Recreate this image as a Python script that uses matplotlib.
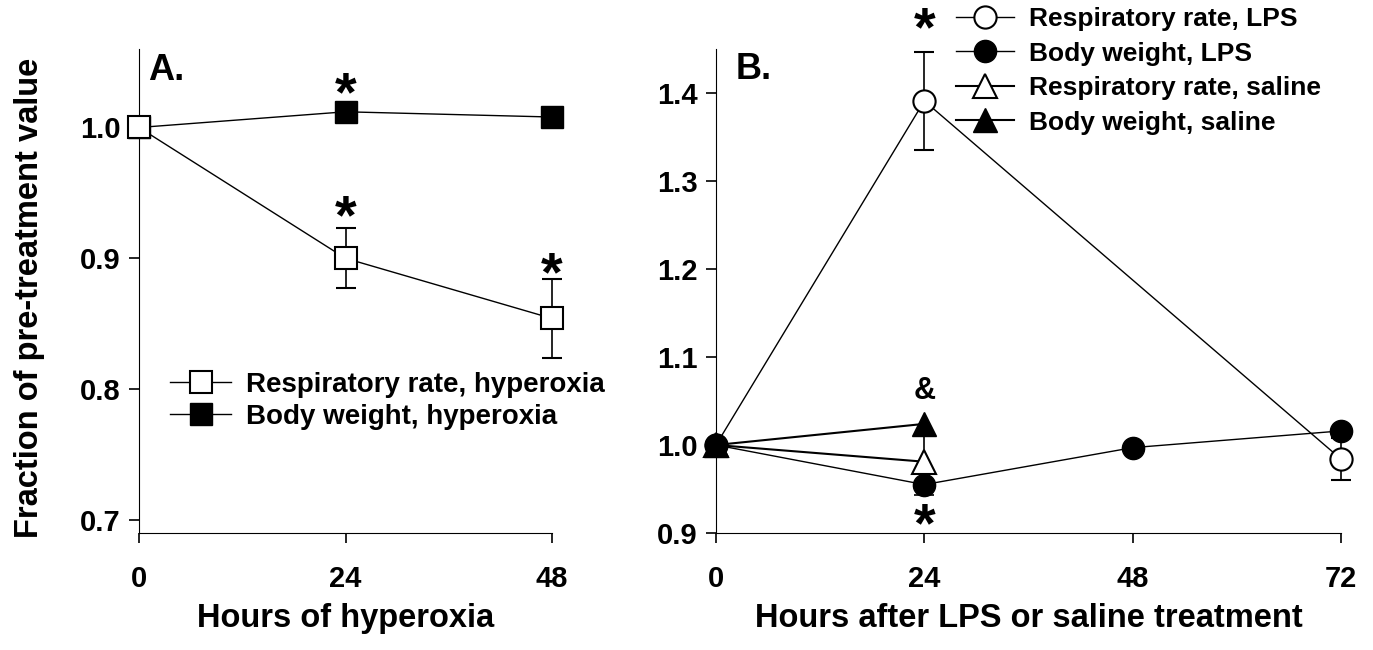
import numpy as np
import matplotlib
matplotlib.use("Agg")
import matplotlib.pyplot as plt

plt.rcParams['font.family'] = ['Liberation Sans', 'DejaVu Sans']
plt.rcParams['font.weight'] = 'bold'

# Panel A: hyperoxia
hrs_a = [0, 24, 48]
rr_hyp = [1.0, 0.900, 0.854]
rr_hyp_err = [0.0, 0.023, 0.030]
bw_hyp = [1.0, 1.012, 1.008]

# Panel B: LPS / saline
rr_lps_x = [0, 24, 72]
rr_lps = [1.0, 1.391, 0.984]
rr_lps_err = [0.0, 0.056, 0.024]
bw_lps_x = [0, 24, 48, 72]
bw_lps = [1.0, 0.955, 0.997, 1.016]
bw_lps_err = [0.0, 0.012, 0.0, 0.0]
sal_x = [0, 24]
rr_sal = [1.0, 0.981]
rr_sal_up = [0.0, 0.040]
bw_sal = [1.0, 1.024]

W, H = 1373, 650
fig = plt.figure(figsize=(W / 100, H / 100), dpi=100)

def px_axes(x0, x1, ytop, ybot):
    return fig.add_axes([x0 / W, 1 - ybot / H, (x1 - x0) / W, (ybot - ytop) / H])

axA = px_axes(139, 552, 49, 533)
axB = px_axes(716, 1341, 49, 533)

for ax in (axA, axB):
    ax.spines['top'].set_visible(False)
    ax.spines['right'].set_visible(False)
    ax.tick_params(direction='out', length=7, width=1.2, labelsize=21)
    ax.tick_params(axis='x', pad=16)
    ax.tick_params(axis='y', pad=6)

ms = 16
ek = dict(ecolor='black', elinewidth=1.2, capsize=7, capthick=1.2)
leg_kw = dict(loc='upper left', frameon=False, handlelength=2.2,
              handletextpad=0.55, borderpad=0, borderaxespad=0, numpoints=1)

# ---- panel A
rrA = axA.errorbar(hrs_a, rr_hyp, yerr=rr_hyp_err, color='black', lw=1.0, marker='s',
                   ms=ms, mfc='white', mec='black', mew=1.5, clip_on=False, zorder=3, **ek)
bwA, = axA.plot(hrs_a, bw_hyp, color='black', lw=1.0, marker='s', ms=ms, mfc='black',
                mec='black', clip_on=False, zorder=2)
axA.set_xlim(0, 48)
axA.set_ylim(0.69, 1.06)
axA.set_xticks([0, 24, 48])
axA.set_yticks([0.7, 0.8, 0.9, 1.0])
axA.set_xlabel('Hours of hyperoxia', fontsize=23.5, fontweight='bold', labelpad=7)
axA.set_ylabel('Fraction of pre-treatment value', fontsize=23.5, fontweight='bold')
axA.yaxis.set_label_coords(-0.228, 0.485)
axA.text(1.0, 1.057, 'A.', fontsize=26, fontweight='bold', va='top')
for x, y in [(24, 1.024), (24, 0.930), (48, 0.886)]:
    axA.text(x, y, '*', fontsize=40, fontweight='bold', ha='center', va='center')
fig.legend([rrA[0], bwA], ['Respiratory rate, hyperoxia', 'Body weight, hyperoxia'],
           bbox_to_anchor=(170 / W, 1 - 372 / H), fontsize=20, labelspacing=0.2, **leg_kw)

# ---- panel B
rrB = axB.errorbar(rr_lps_x, rr_lps, yerr=rr_lps_err, color='black', lw=1.0, marker='o',
                   ms=ms, mfc='white', mec='black', mew=1.5, clip_on=False, zorder=3, **ek)
bwB = axB.errorbar(bw_lps_x, bw_lps, yerr=bw_lps_err, color='black', lw=1.0, marker='o',
                   ms=ms, mfc='black', mec='black', clip_on=False, zorder=4, **ek)
rsB = axB.errorbar(sal_x, rr_sal, yerr=[[0, 0], rr_sal_up], color='black', lw=1.5,
                   marker='^', ms=ms + 1, mfc='white', mec='black', mew=1.5, clip_on=False,
                   zorder=3, ecolor='black', elinewidth=1.2, capsize=0)
bsB, = axB.plot(sal_x, bw_sal, color='black', lw=1.5, marker='^', ms=ms + 1, mfc='black',
                mec='black', clip_on=False, zorder=5)
axB.set_xlim(0, 72)
axB.set_ylim(0.9, 1.45)
axB.set_xticks([0, 24, 48, 72])
axB.set_yticks([0.9, 1.0, 1.1, 1.2, 1.3, 1.4])
axB.set_xlabel('Hours after LPS or saline treatment', fontsize=23.5, fontweight='bold',
               labelpad=7)
axB.text(2.3, 1.447, 'B.', fontsize=26, fontweight='bold', va='top')
axB.text(24, 1.470, '*', fontsize=40, fontweight='bold', ha='center', va='center',
         clip_on=False)
axB.text(24, 1.061, '&', fontsize=22, fontweight='bold', ha='center', va='center')
axB.text(24, 0.906, '*', fontsize=40, fontweight='bold', ha='center', va='center')
fig.legend([rrB[0], bwB[0], rsB[0], bsB],
           ['Respiratory rate, LPS', 'Body weight, LPS', 'Respiratory rate, saline',
            'Body weight, saline'],
           bbox_to_anchor=(956 / W, 1 - 7 / H), fontsize=19, labelspacing=0.4, **leg_kw)

fig.savefig('out.png', dpi=100)
